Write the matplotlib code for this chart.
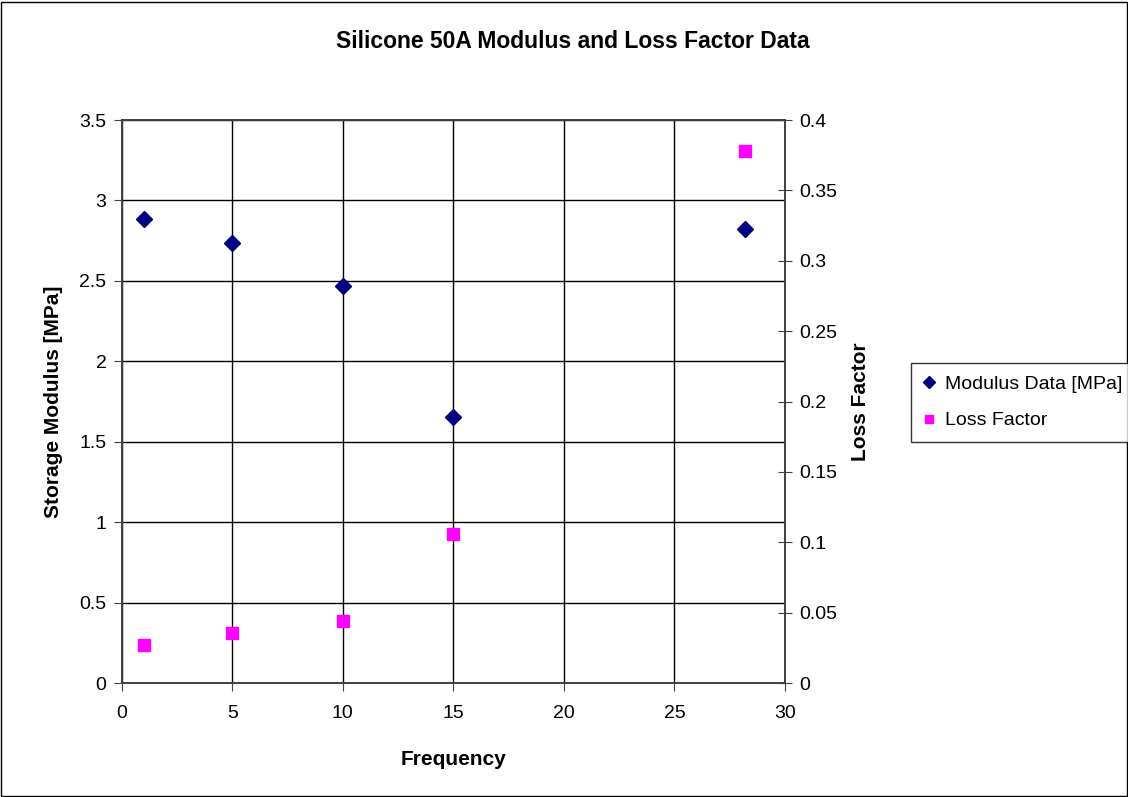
import matplotlib
matplotlib.use("Agg")
import matplotlib.pyplot as plt
from matplotlib.patches import Rectangle

# Frequency values and the two measured series
frequency = [1, 5, 10, 15, 28.2]
modulus_mpa = [2.884, 2.737, 2.467, 1.655, 2.823]
loss_factor = [0.0270, 0.0353, 0.0440, 0.1059, 0.3782]

x_ticks = [0, 5, 10, 15, 20, 25, 30]
left_ticks = [0, 0.5, 1, 1.5, 2, 2.5, 3, 3.5]
right_ticks = [0, 0.05, 0.1, 0.15, 0.2, 0.25, 0.3, 0.35, 0.4]

plt.rcParams['font.family'] = ['Liberation Sans', 'DejaVu Sans']

fig = plt.figure(figsize=(11.28, 7.97), dpi=100)
fig.patches.append(Rectangle((0.001, 0.001), 0.998, 0.997, transform=fig.transFigure,
                             fill=False, edgecolor='black', linewidth=1.0))

ax = fig.add_axes([0.1079, 0.1430, 0.6959 - 0.1079, 0.8494 - 0.1430])
ax2 = ax.twinx()

m1, = ax.plot(frequency, modulus_mpa, linestyle='none', marker='D', markersize=8,
              color='#000080', label='Modulus Data [MPa]', zorder=5)
m2, = ax2.plot(frequency, loss_factor, linestyle='none', marker='s', markersize=8,
               color='#FF00FF', label='Loss Factor', zorder=5)

ax.set_xlim(0, 30)
ax.set_ylim(0, 3.5)
ax2.set_ylim(0, 0.4)
ax.set_xticks(x_ticks)
ax.set_yticks(left_ticks)
ax.set_yticklabels([f"{v:g}" for v in left_ticks])
ax2.set_yticks(right_ticks)
ax2.set_yticklabels([f"{v:g}" for v in right_ticks])

ax.grid(True, color='black', linewidth=1.0)
ax.set_axisbelow(True)
for a in (ax, ax2):
    for s in a.spines.values():
        s.set_color('#404040')
        s.set_linewidth(1.2)
ax.tick_params(axis='y', direction='out', length=6, pad=5, labelsize=14, color='#404040')
ax.tick_params(axis='x', direction='out', length=6, pad=10, labelsize=14, color='#404040')
ax2.tick_params(axis='y', direction='inout', length=10, pad=5, labelsize=14, color='#404040')

ax.set_xlabel('Frequency', fontsize=15, fontweight='bold', labelpad=20)
ax.set_ylabel('Storage Modulus [MPa]', fontsize=15, fontweight='bold', labelpad=12)
ax2.set_ylabel('Loss Factor', fontsize=15, fontweight='bold', labelpad=10)
fig.suptitle('Silicone 50A Modulus and Loss Factor Data', fontsize=16.5,
             fontweight='bold', x=0.508, y=0.962)

leg = fig.legend(handles=[m1, m2], loc='upper left', bbox_to_anchor=(0.8076, 0.5445),
                 borderaxespad=0, fontsize=14, frameon=True, fancybox=False,
                 edgecolor='black', handlelength=0.6, handletextpad=0.5,
                 markerscale=0.8, borderpad=0.65, labelspacing=0.95)
leg.get_frame().set_linewidth(1.0)

fig.savefig('out.png', dpi=100)
